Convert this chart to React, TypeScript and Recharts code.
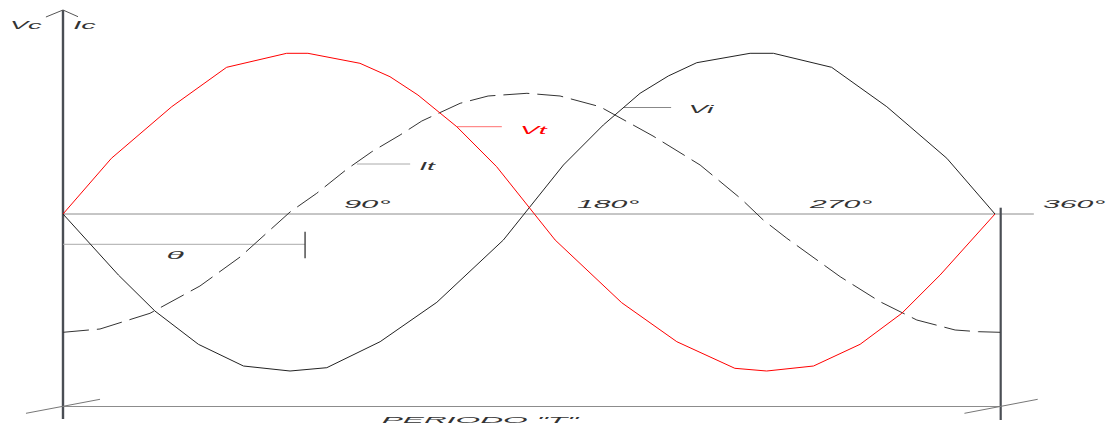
import { LineChart, Line, XAxis, YAxis, ReferenceLine, ReferenceDot } from "recharts";

// Vt (red), Vi (solid black), It (dashed) – angle in degrees, amplitude in drawing units
const vtDeg = [0, 18.7, 42.0, 63.2, 86.4, 94.6, 114.7, 126.3, 137.1, 152.1, 167.5, 190.1, 215.8, 237.1, 259.5, 271.8, 289.9, 307.9, 324.0, 338.8, 360];
const vtVal = [0, 55.7, 107.3, 146.7, 160.7, 160.7, 150.7, 137.3, 119, 87.3, 47.3, -26, -88.7, -127.7, -154.3, -157, -152, -130.3, -99.3, -61, 0];

const viDeg = [0, 21.4, 35.5, 52.3, 69.7, 87.7, 101.9, 122.5, 144.4, 170.1, 193.3, 208.7, 222.9, 233.8, 244.8, 265.4, 274.4, 296.9, 318.2, 341.4, 360];
const viVal = [0, -61, -97, -130.3, -152, -157, -153.7, -127.7, -88.3, -26, 49, 89, 120.7, 138, 151.3, 160.7, 160.7, 146.7, 107.3, 55.7, 0];

const itDeg = [0, 14.3, 33.6, 52.9, 68.4, 87.7, 98, 109.6, 119.3, 130.2, 138.6, 153.4, 164.2, 179.2, 192, 207.4, 227.9, 246.1, 262, 270.5, 279.6, 300.2, 315.6, 329.8, 344.6, 353.6, 362];
const itVal = [-118.3, -115, -99.3, -72, -43, 2, 20.7, 44.7, 62.3, 79, 93, 110.7, 118, 120.7, 118, 107.3, 78, 49, 15, -6, -24.3, -62.7, -87.7, -106, -116, -117.7, -118.3];

const tickDegs = [90, 180, 270, 360];
const tickLabels = ["90°", "180°", "270°", "360°"];

const toRows = (degs: number[], vals: number[]) => degs.map((d, i) => ({ deg: d, v: vals[i] }));

const vtData = toRows(vtDeg, vtVal);
const viData = toRows(viDeg, viVal);
const itData = toRows(itDeg, itVal);

const FONT = "'Liberation Sans', Arial, sans-serif";

const textShape = (txt: string, len: number, size: number, color: string) => (p: any) => (
  <text
    x={p.cx}
    y={p.cy}
    fill={color}
    fontFamily={FONT}
    fontStyle="italic"
    fontSize={size}
    textLength={len}
    lengthAdjust="spacingAndGlyphs"
  >
    {txt}
  </text>
);

const seg = (x1: number, y1: number, x2: number, y2: number) => [
  { x: x1, y: y1 },
  { x: x2, y: y2 },
];

// annotation lines: [segment, stroke, width]
const refSegs: [ReturnType<typeof seg>, string, number][] = [
  [seg(0, 204, 0, -205), "#4a4e54", 2.4],
  [seg(-6.6, 197, 0, 204), "#555", 1],
  [seg(0, 204, 5.8, 197.3), "#555", 1],
  [seg(362.2, 6.3, 362.2, -206), "#4a4e54", 2.2],
  [seg(0, -192.5, 362.2, -192.5), "#8c8c8c", 1],
  [seg(-14.3, -199.3, 14.3, -185.3), "#777", 1],
  [seg(348.2, -199.3, 376.5, -185.3), "#777", 1],
  [seg(0, -30.3, 93.5, -30.3), "#aaa", 1],
  [seg(93.5, -17.7, 93.5, -44.3), "#333", 1.3],
  [seg(152.1, 87.3, 169.5, 87.3), "#ff7070", 1],
  [seg(113.5, 50, 134.1, 50), "#aaa", 1],
  [seg(216.4, 106.5, 234.9, 106.5), "#888", 1],
];

// text notes: text, deg, value, length, size, colour
const notes: [string, number, number, number, number, string][] = [
  ["Vc", -20.5, 184.7, 31.7, 10.5, "#333"],
  ["Ic", 4.0, 184.7, 22.4, 10.5, "#333"],
  ["Vt", 176.5, 80, 26.7, 10.5, "#ff0000"],
  ["It", 137.6, 44, 15.7, 10.5, "#333"],
  ["Vi", 241.6, 101.3, 25, 10.5, "#333"],
  ["θ", 40.0, -45.3, 17.3, 10.5, "#333"],
  ['PERIODO "T"', 123.1, -209.3, 196.6, 9.5, "#333"],
];

export default function App() {
  return (
    <div style={{ position: "absolute", left: 0, top: 0, background: "#fff" }}>
      <LineChart width={1107} height={428} margin={{ top: 10, right: 73.17, bottom: 8, left: 63 }}>
        <XAxis dataKey="deg" type="number" domain={[0, 375]} allowDataOverflow hide />
        <YAxis type="number" domain={[-206, 204]} allowDataOverflow hide />
        <ReferenceLine y={0} stroke="#8c8c8c" strokeWidth={1} ifOverflow="visible" />
        {refSegs.map(([s, c, w], i) => (
          <ReferenceLine key={`s${i}`} segment={s} stroke={c} strokeWidth={w} ifOverflow="visible" />
        ))}
        <Line data={itData} dataKey="v" type="linear" stroke="#333" strokeWidth={1} strokeDasharray="26 8" dot={false} isAnimationActive={false} />
        <Line data={viData} dataKey="v" type="linear" stroke="#222" strokeWidth={1} dot={false} isAnimationActive={false} />
        <Line data={vtData} dataKey="v" type="linear" stroke="#ff0000" strokeWidth={1} dot={false} isAnimationActive={false} />
        {tickDegs.map((d, i) => (
          <ReferenceDot
            key={`t${i}`}
            x={d + 18.5}
            y={5.7}
            r={0}
            ifOverflow="visible"
            shape={textShape(tickLabels[i], tickLabels[i].length * 15.6, 11, "#333")}
          />
        ))}
        {notes.map(([txt, d, v, len, size, col], i) => (
          <ReferenceDot key={`n${i}`} x={d} y={v} r={0} ifOverflow="visible" shape={textShape(txt, len, size, col)} />
        ))}
      </LineChart>
    </div>
  );
}
